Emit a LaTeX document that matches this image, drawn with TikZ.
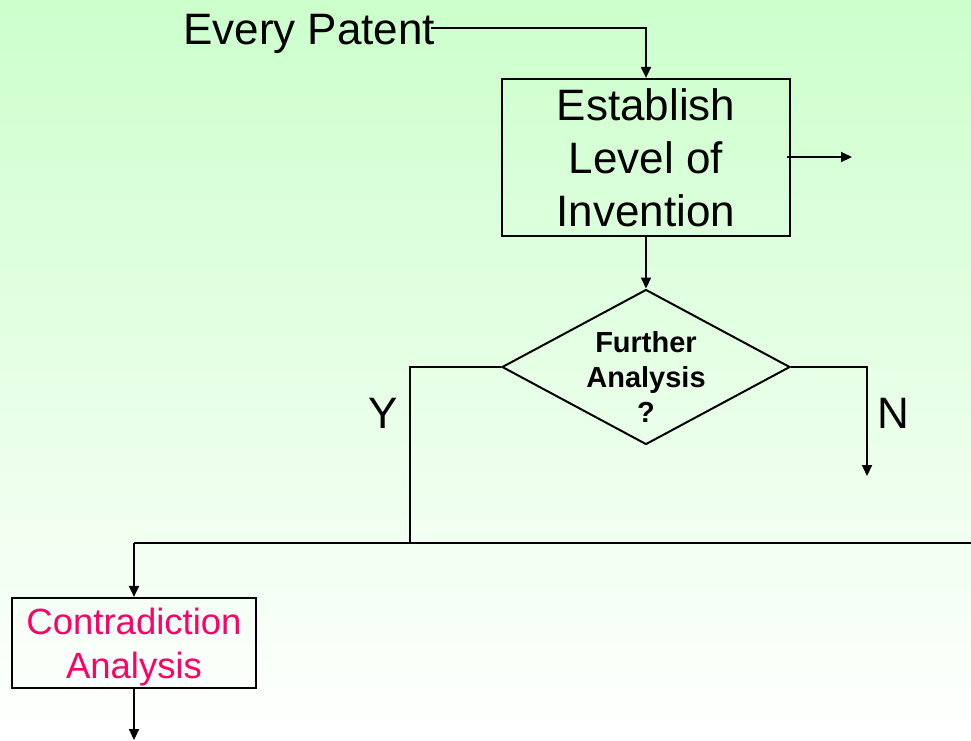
\documentclass[tikz,border=0pt]{standalone}
\usepackage{fontspec}
\setmainfont{Liberation Sans}
\usetikzlibrary{arrows.meta,shapes.geometric}
\definecolor{bggreen}{RGB}{204,255,204}
\definecolor{capink}{RGB}{255,0,102}
\tikzset{
  conn/.style={line width=2pt,draw=black},
  arr/.style={conn,-{Triangle[length=11pt,width=10pt]}},
  procbox/.style={draw=black,line width=2.2pt,inner sep=0pt},
  bigtxt/.style={font=\fontsize{44}{53}\selectfont,align=center,inner sep=0pt},
  midtxt/.style={font=\fontsize{36.5}{43.5}\selectfont,align=center,inner sep=0pt},
  dectxt/.style={font=\fontsize{29}{35}\selectfont\bfseries,align=center,inner sep=0pt},
}
\begin{document}
\begin{tikzpicture}[x=1pt,y=-1pt]
\useasboundingbox (0,0) rectangle (971,740);
\shade[top color=bggreen,bottom color=white] (0,0) rectangle (971,740);

% nodes
\node[bigtxt,anchor=base west] (ep) at (183,44) {Every Patent};
\node[procbox,minimum width=288pt,minimum height=157pt] (est) at (646,157.5) {};
\node[bigtxt] (esttxt) at (646,158) {Establish\\Level of\\Invention};
\node[draw=black,line width=2pt,shape=diamond,inner sep=0pt,minimum width=288pt,minimum height=155pt] (dec) at (646,367) {};
\node[dectxt] (dectext) at (646,377) {Further\\Analysis\\?};
\node[procbox,minimum width=244pt,minimum height=90pt] (ca) at (134,643) {};
\node[midtxt,text=capink] (catxt) at (134,647) {Contradiction\\Analysis};
\node[bigtxt] (ylab) at (383,413) {Y};
\node[bigtxt] (nlab) at (893,413) {N};

% coordinates
\coordinate (epline) at (431,28);
\coordinate (estout) at (852,157);
\coordinate (ycorner) at (410,367);
\coordinate (yjoin) at (410,543);
\coordinate (ncorner) at (867,367);
\coordinate (nend) at (867,476);
\coordinate (busL) at (134,543);
\coordinate (busR) at (971,543);
\coordinate (caend) at (134,740);

% connectors
\draw[arr] (epline) -| (est.north);
\draw[arr] (est.east |- estout) ++(-4,0) -- (estout);
\draw[arr] (est.south) -- (dec.north);
\draw[conn] (dec.west) -- (ycorner) -- (yjoin);
\draw[arr] (dec.east) -- (ncorner) -- (nend);
\draw[conn] (busR) -- (busL);
\draw[arr] (busL) -- (ca.north);
\draw[arr] (ca.south) -- (caend);
\end{tikzpicture}
\end{document}
